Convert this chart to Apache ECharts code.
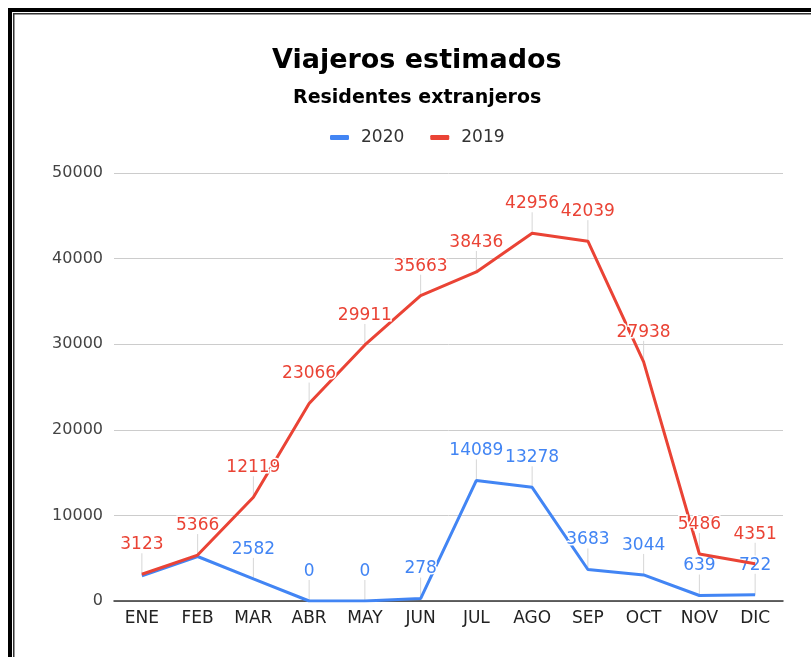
<!DOCTYPE html>
<html>
<head>
<meta charset="utf-8">
<script src="https://cdn.jsdelivr.net/npm/echarts@6/dist/echarts.min.js"></script>
<style>
html,body{margin:0;padding:0;background:#fff;}
#chart{width:811px;height:657px;}
</style>
</head>
<body>
<div id="chart"></div>
<script>
var categories = ['ENE','FEB','MAR','ABR','MAY','JUN','JUL','AGO','SEP','OCT','NOV','DIC'];
var values2020 = [2950, 5200, 2582, 0, 0, 278, 14089, 13278, 3683, 3044, 639, 722];
var values2019 = [3123, 5366, 12119, 23066, 29911, 35663, 38436, 42956, 42039, 27938, 5486, 4351];
var hiddenLabels2020 = [0, 1];
var yTicks = [0, 10000, 20000, 30000, 40000, 50000];

var BLUE = '#4285F4', RED = '#EA4335';
var FONT = 'DejaVu Sans';

function lineData(vals, hidden) {
  return vals.map(function (v, i) {
    if (hidden.indexOf(i) >= 0) return { value: v, label: { show: false } };
    return v;
  });
}
function stemData(vals, hidden) {
  var out = [];
  vals.forEach(function (v, i) { if (hidden.indexOf(i) < 0) out.push([i, v]); });
  return out;
}
function stemRender(params, api) {
  var p = api.coord([api.value(0), api.value(1)]);
  return {
    type: 'line',
    shape: { x1: p[0], y1: p[1], x2: p[0], y2: p[1] - 21 },
    style: { stroke: '#d6d6d6', lineWidth: 1 }
  };
}

var chart = echarts.init(document.getElementById('chart'), null, { renderer: 'canvas' });
chart.setOption({
  animation: false,
  backgroundColor: '#fff',
  textStyle: { fontFamily: FONT },
  title: [
    { text: 'Viajeros estimados', left: 267, top: 42,
      textStyle: { fontFamily: FONT, fontSize: 27, fontWeight: 'bold', color: '#000' } },
    { text: 'Residentes extranjeros', left: 288, top: 84,
      textStyle: { fontFamily: FONT, fontSize: 19, fontWeight: 'bold', color: '#000' } }
  ],
  legend: {
    data: ['2020', '2019'],
    top: 124, left: 325,
    icon: 'roundRect', itemWidth: 19, itemHeight: 5, itemGap: 26,
    textStyle: { fontFamily: FONT, fontSize: 17, color: '#333', padding: [0, 0, 0, 7] }
  },
  grid: { left: 114, right: 28, top: 173, bottom: 56, containLabel: false },
  xAxis: {
    type: 'category', data: categories, boundaryGap: true,
    axisLine: { lineStyle: { color: '#333', width: 1.5 } },
    axisTick: { show: false },
    axisLabel: { fontFamily: FONT, fontSize: 17, color: '#222', margin: 9 },
    splitLine: { show: false }
  },
  yAxis: {
    type: 'value', min: yTicks[0], max: yTicks[yTicks.length - 1], interval: yTicks[1] - yTicks[0],
    axisLine: { show: false }, axisTick: { show: false },
    axisLabel: { fontFamily: FONT, fontSize: 16, color: '#444', margin: 11,
      formatter: function (v) { return String(v); } },
    splitLine: { lineStyle: { color: '#cccccc', width: 1 } }
  },
  graphic: [
    { type: 'rect', shape: { x: 8, y: 8, width: 4, height: 660 }, style: { fill: '#000' }, z: 100 },
    { type: 'rect', shape: { x: 8, y: 8, width: 810, height: 4 }, style: { fill: '#000' }, z: 100 },
    { type: 'rect', shape: { x: 13, y: 13, width: 1.5, height: 660 }, style: { fill: '#333' }, z: 100 },
    { type: 'rect', shape: { x: 13, y: 13, width: 810, height: 1.5 }, style: { fill: '#333' }, z: 100 }
  ],
  series: [
    { type: 'custom', name: 'stem2020', renderItem: stemRender, data: stemData(values2020, hiddenLabels2020), z: 1, silent: true },
    { type: 'custom', name: 'stem2019', renderItem: stemRender, data: stemData(values2019, []), z: 1, silent: true },
    {
      name: '2020', type: 'line', data: lineData(values2020, hiddenLabels2020),
      showSymbol: true, symbol: 'circle', symbolSize: 0.1, z: 3,
      lineStyle: { color: BLUE, width: 3 }, itemStyle: { color: BLUE },
      label: { show: true, position: 'top', distance: 21, fontFamily: FONT, fontSize: 17, color: BLUE,
        textBorderColor: '#fff', textBorderWidth: 3 }
    },
    {
      name: '2019', type: 'line', data: lineData(values2019, []),
      showSymbol: true, symbol: 'circle', symbolSize: 0.1, z: 4,
      lineStyle: { color: RED, width: 3 }, itemStyle: { color: RED },
      label: { show: true, position: 'top', distance: 21, fontFamily: FONT, fontSize: 17, color: RED,
        textBorderColor: '#fff', textBorderWidth: 3 }
    }
  ]
});
</script>
</body>
</html>
